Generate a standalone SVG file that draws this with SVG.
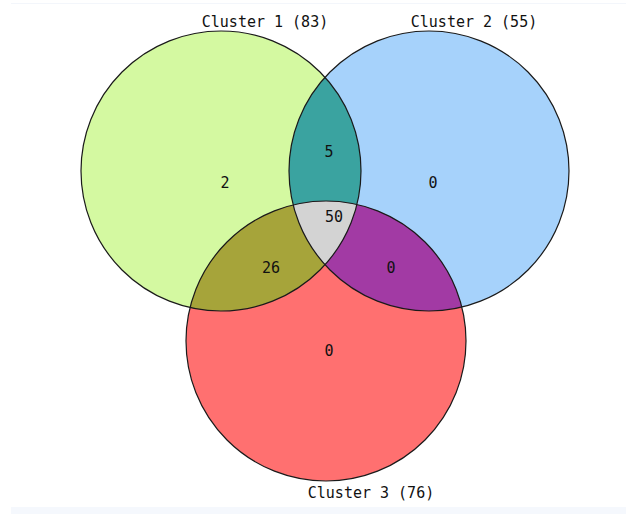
<svg xmlns="http://www.w3.org/2000/svg" width="626" height="514" viewBox="0 0 626 514">
<style>
.lbl{font-family:"DejaVu Sans Mono","Liberation Mono",monospace;font-size:15px;fill:#111;text-anchor:middle}
.ring{fill:none;stroke:#1a1a1a;stroke-width:1.2}
</style>
<defs>
<clipPath id="c1"><circle cx="221" cy="171" r="140"/></clipPath>
<clipPath id="c2"><circle cx="429" cy="171" r="140"/></clipPath>
<clipPath id="c3"><circle cx="326" cy="341" r="140"/></clipPath>
</defs>
<rect width="626" height="514" fill="#ffffff"/>
<rect x="11" y="3" width="615" height="1" fill="#f3f6fb"/>
<rect x="11" y="507" width="615" height="7" fill="#f5f8fd"/>
<g id="cluster1"><circle cx="221" cy="171" r="140" fill="#d4f9a1"/></g>
<g id="cluster2"><circle cx="429" cy="171" r="140" fill="#a6d2fb"/></g>
<g id="cluster3"><circle cx="326" cy="341" r="140" fill="#ff7070"/></g>
<g id="overlaps">
<g clip-path="url(#c1)"><circle cx="429" cy="171" r="140" fill="#3aa3a0"/><circle cx="326" cy="341" r="140" fill="#a6a43a"/></g>
<g clip-path="url(#c2)"><circle cx="326" cy="341" r="140" fill="#a23aa4"/></g>
<g clip-path="url(#c1)"><g clip-path="url(#c2)"><circle cx="326" cy="341" r="140" fill="#d3d3d3"/></g></g>
</g>
<g id="outlines">
<circle class="ring" cx="221" cy="171" r="140"/>
<circle class="ring" cx="429" cy="171" r="140"/>
<circle class="ring" cx="326" cy="341" r="140"/>
</g>
<g id="labels">
<text class="lbl" x="265" y="27">Cluster 1 (83)</text>
<text class="lbl" x="474" y="27">Cluster 2 (55)</text>
<text class="lbl" x="371" y="498">Cluster 3 (76)</text>
<text class="lbl" x="225" y="188">2</text>
<text class="lbl" x="329" y="157">5</text>
<text class="lbl" x="433" y="188">0</text>
<text class="lbl" x="334" y="222">50</text>
<text class="lbl" x="271" y="273">26</text>
<text class="lbl" x="391" y="273">0</text>
<text class="lbl" x="329" y="356">0</text>
</g>
</svg>
